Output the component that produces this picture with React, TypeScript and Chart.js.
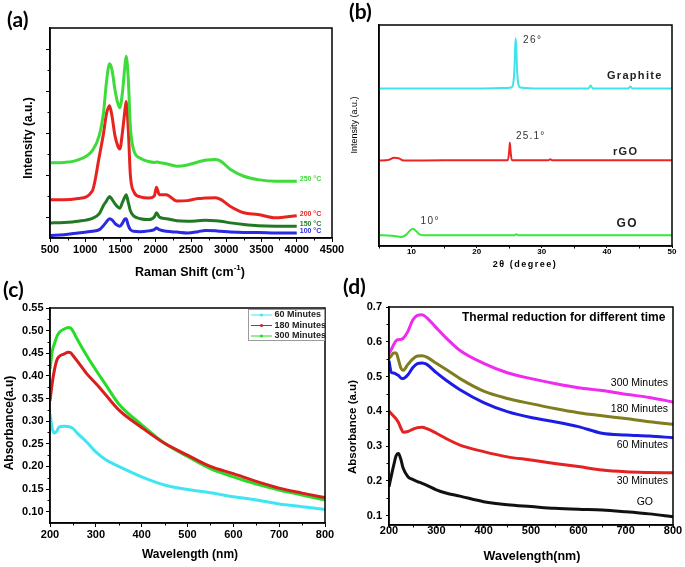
import React, { useEffect, useRef } from "react";
import { Chart, registerables } from "chart.js";
Chart.register(...registerables);

const W = 685;
const H = 567;
const SANS = '"Liberation Sans", Arial, sans-serif';
const PLAB = 'Lato, "Open Sans", sans-serif';

// ---------- (a) Raman ----------
const RAMAN_X = [500, 700, 900, 1100, 1200, 1260, 1300, 1345, 1380, 1420, 1460, 1490, 1530, 1560, 1580, 1610, 1640, 1690, 1780, 1900, 1980, 2010, 2050, 2150, 2300, 2450, 2600, 2700, 2850, 2920, 3060, 3250, 3450, 3700, 4000];
const RAMAN_250 = [1.29, 1.3, 1.36, 1.58, 1.95, 2.5, 3.2, 3.65, 3.5, 3.05, 2.72, 2.6, 3.0, 3.55, 3.83, 3.3, 2.15, 1.58, 1.4, 1.32, 1.3, 1.31, 1.3, 1.27, 1.21, 1.24, 1.31, 1.35, 1.37, 1.33, 1.13, 0.97, 0.89, 0.85, 0.85];
const RAMAN_200 = [0.41, 0.41, 0.44, 0.62, 1.45, 2.0, 2.45, 2.65, 2.4, 1.95, 1.7, 1.62, 2.05, 2.5, 2.75, 2.1, 1.0, 0.6, 0.48, 0.45, 0.5, 0.71, 0.53, 0.53, 0.38, 0.39, 0.44, 0.45, 0.46, 0.42, 0.25, 0.1, 0.06, -0.02, 0.03];
const RAMAN_150 = [-0.14, -0.13, -0.1, -0.03, 0.08, 0.28, 0.38, 0.49, 0.42, 0.32, 0.24, 0.21, 0.36, 0.47, 0.53, 0.35, 0.15, 0.02, -0.04, -0.06, 0.0, 0.1, 0.0, -0.04, -0.09, -0.1, -0.09, -0.08, -0.09, -0.1, -0.14, -0.18, -0.21, -0.22, -0.22];
const RAMAN_100 = [-0.44, -0.42, -0.38, -0.34, -0.3, -0.2, -0.12, -0.04, -0.07, -0.15, -0.2, -0.22, -0.14, -0.05, -0.04, -0.2, -0.3, -0.34, -0.35, -0.33, -0.3, -0.26, -0.3, -0.34, -0.36, -0.38, -0.35, -0.32, -0.33, -0.34, -0.36, -0.37, -0.37, -0.38, -0.38];
const RAMAN_XTICKS = [500, 1000, 1500, 2000, 2500, 3000, 3500, 4000, 4500];
const RAMAN_XMINOR = [750, 1250, 1750, 2250, 2750, 3250, 3750, 4250];
const RAMAN_YTICKS = [0, 1, 2, 3, 4];
const RAMAN_YMINOR = [0.5, 1.5, 2.5, 3.5];
const RAMAN_LABELS = ["250 °C", "200 °C", "150 °C", "100 °C"];

// ---------- (b) XRD ----------
const GRAPHITE_X = [5, 10, 15, 20, 24, 25.3, 25.6, 25.8, 25.9, 26.0, 26.1, 26.2, 26.4, 26.7, 30, 37.2, 37.5, 37.8, 43.3, 43.6, 43.9, 50];
const GRAPHITE_Y = [47.2, 47.2, 47.2, 47.2, 47.3, 47.5, 48.5, 53, 59, 62.2, 59, 53, 48.5, 47.5, 47.2, 47.2, 48.1, 47.2, 47.2, 47.8, 47.2, 47.2];
const RGO_X = [5, 6.5, 7.3, 8.0, 8.8, 12, 18, 24.8, 25.0, 25.1, 25.2, 25.4, 31, 31.3, 31.6, 40, 50];
const RGO_Y = [25.6, 25.8, 26.4, 26.3, 25.6, 25.6, 25.7, 25.7, 28.5, 30.9, 28.5, 25.7, 25.7, 26.0, 25.7, 25.7, 25.7];
const GO_X = [5, 7, 8.4, 9.2, 9.7, 10.2, 10.7, 11.3, 12, 20, 25.8, 26.1, 26.4, 35, 50];
const GO_Y = [3.2, 3.1, 2.7, 3.4, 4.5, 5.2, 4.5, 3.4, 3.2, 3.2, 3.2, 3.5, 3.2, 3.2, 3.2];
const XRD_XTICKS = [10, 20, 30, 40, 50];

// ---------- (c) UV-vis ----------
const C_X = [200, 205, 210, 215, 220, 230, 240, 245, 250, 260, 280, 300, 320, 350, 400, 450, 500, 550, 600, 650, 700, 750, 800];
const C_60 = [0.316, 0.283, 0.274, 0.278, 0.287, 0.289, 0.288, 0.287, 0.284, 0.273, 0.254, 0.232, 0.216, 0.2, 0.177, 0.159, 0.149, 0.142, 0.133, 0.126, 0.117, 0.111, 0.105];
const C_180 = [0.345, 0.385, 0.415, 0.435, 0.443, 0.448, 0.452, 0.451, 0.445, 0.432, 0.405, 0.383, 0.36, 0.325, 0.286, 0.251, 0.225, 0.2, 0.184, 0.167, 0.152, 0.141, 0.131];
const C_300 = [0.415, 0.455, 0.472, 0.487, 0.496, 0.503, 0.507, 0.506, 0.499, 0.48, 0.445, 0.413, 0.383, 0.338, 0.292, 0.251, 0.222, 0.195, 0.177, 0.161, 0.148, 0.137, 0.126];
const C_LEGEND = ["60 Minutes", "180 Minutes", "300 Minutes"];
const C_XTICKS = [200, 300, 400, 500, 600, 700, 800];
const C_XMINOR = [250, 350, 450, 550, 650, 750];
const C_YTICKS = [0.1, 0.15, 0.2, 0.25, 0.3, 0.35, 0.4, 0.45, 0.5, 0.55];
const C_YMINOR = [0.125, 0.175, 0.225, 0.275, 0.325, 0.375, 0.425, 0.475, 0.525];

// ---------- (d) UV-vis thermal ----------
const D_X = [200, 205, 210, 215, 220, 225, 230, 240, 250, 260, 270, 280, 300, 320, 350, 400, 450, 500, 550, 600, 650, 700, 750, 800];
const D_300 = [0.566, 0.578, 0.592, 0.603, 0.606, 0.607, 0.61, 0.63, 0.662, 0.676, 0.678, 0.669, 0.64, 0.612, 0.575, 0.538, 0.511, 0.494, 0.48, 0.468, 0.46, 0.449, 0.44, 0.427];
const D_180 = [0.552, 0.56, 0.568, 0.568, 0.548, 0.525, 0.518, 0.535, 0.55, 0.559, 0.56, 0.556, 0.538, 0.521, 0.494, 0.458, 0.437, 0.422, 0.408, 0.396, 0.387, 0.379, 0.37, 0.363];
const D_60 = [0.545, 0.512, 0.51, 0.507, 0.503, 0.496, 0.494, 0.505, 0.525, 0.537, 0.539, 0.535, 0.511, 0.49, 0.462, 0.425, 0.399, 0.382, 0.37, 0.356, 0.337, 0.332, 0.329, 0.324];
const D_30 = [0.401, 0.393, 0.386, 0.378, 0.368, 0.352, 0.34, 0.342, 0.348, 0.353, 0.354, 0.35, 0.337, 0.322, 0.303, 0.284, 0.269, 0.26, 0.25, 0.241, 0.231, 0.226, 0.224, 0.223];
const D_GO = [0.183, 0.215, 0.245, 0.272, 0.279, 0.262, 0.236, 0.212, 0.204, 0.198, 0.193, 0.187, 0.174, 0.165, 0.156, 0.14, 0.131, 0.126, 0.121, 0.118, 0.116, 0.111, 0.105, 0.097];
const D_LABELS = ["300 Minutes", "180 Minutes", "60 Minutes", "30 Minutes", "GO"];
const D_XTICKS = [200, 300, 400, 500, 600, 700, 800];
const D_XMINOR = [250, 350, 450, 550, 650, 750];
const D_YTICKS = [0.1, 0.2, 0.3, 0.4, 0.5, 0.6, 0.7];
const D_YMINOR = [0.15, 0.25, 0.35, 0.45, 0.55, 0.65];

// ---------- helpers ----------
type Part = { t: string; f: string; dy?: number };
type Txt = {
  parts: Part[];
  x: number;
  y: number;
  color?: string;
  align?: "left" | "center" | "right";
  rot?: boolean;
  ls?: number;
};

const T = (t: string, f: string, x: number, y: number, o: Partial<Txt> = {}): Txt => ({
  parts: [{ t, f }],
  x,
  y,
  ...o,
});

function drawTxt(ctx: CanvasRenderingContext2D, tx: Txt) {
  ctx.save();
  (ctx as any).letterSpacing = (tx.ls || 0) + "px";
  let total = 0;
  const widths = tx.parts.map((p) => {
    ctx.font = p.f;
    const w = ctx.measureText(p.t).width;
    total += w;
    return w;
  });
  ctx.translate(tx.x, tx.y);
  if (tx.rot) ctx.rotate(-Math.PI / 2);
  const align = tx.align || "left";
  let x = align === "left" ? 0 : align === "center" ? -total / 2 : -total;
  ctx.fillStyle = tx.color || "#000";
  ctx.textBaseline = "middle";
  ctx.textAlign = "left";
  tx.parts.forEach((p, i) => {
    ctx.font = p.f;
    ctx.fillText(p.t, x, p.dy || 0);
    x += widths[i];
  });
  ctx.restore();
}

type Axis = {
  min: number;
  max: number;
  ticks: number[];
  minor: number[];
  show: boolean;
  size: number;
  tickLen: number;
  pad: number;
  fmt?: (v: number) => string;
};

type Panel = {
  area: { l: number; t: number; r: number; b: number };
  x: Axis;
  y: Axis;
  datasets: any[];
  texts: (chart: any) => Txt[];
  extra?: (chart: any, ctx: CanvasRenderingContext2D) => void;
};

const line = (xs: number[], ys: number[], color: string, width = 3) => ({
  data: xs.map((x, i) => ({ x, y: ys[i] })),
  borderColor: color,
  backgroundColor: color,
  borderWidth: width,
  pointRadius: 0,
  fill: false,
  cubicInterpolationMode: "monotone",
});

function scaleOpts(a: Axis, isX: boolean, boxSize: number) {
  return {
    type: "linear",
    position: isX ? "bottom" : "left",
    min: a.min,
    max: a.max,
    bounds: "data",
    afterBuildTicks: (s: any) => {
      s.ticks = a.ticks.map((v) => ({ value: v }));
    },
    afterFit: (s: any) => {
      if (isX) s.height = boxSize;
      else s.width = boxSize;
    },
    grid: {
      drawOnChartArea: false,
      drawTicks: true,
      tickLength: a.tickLen,
      color: "#000",
      lineWidth: 1,
    },
    border: { display: true, color: "#000", width: 1.5 },
    ticks: {
      display: a.show,
      autoSkip: false,
      maxRotation: 0,
      minRotation: 0,
      padding: a.pad,
      color: "#000",
      font: { family: SANS, size: a.size, weight: "bold", lineHeight: 1 },
      callback: (v: any) => (a.fmt ? a.fmt(Number(v)) : String(v)),
    },
  };
}

function buildChart(canvas: HTMLCanvasElement, p: Panel) {
  const yw = 40;
  const xh = 30;
  const overlay = {
    id: "overlay",
    afterDraw(chart: any) {
      const ctx: CanvasRenderingContext2D = chart.ctx;
      const ca = chart.chartArea;
      const xs = chart.scales.x;
      const ys = chart.scales.y;
      ctx.save();
      ctx.strokeStyle = "#000";
      ctx.lineWidth = 1.5;
      ctx.strokeRect(ca.left, ca.top, ca.right - ca.left, ca.bottom - ca.top);
      ctx.lineWidth = 1;
      ctx.beginPath();
      p.x.minor.forEach((v) => {
        const px = Math.round(xs.getPixelForValue(v)) + 0.5;
        ctx.moveTo(px, ca.bottom);
        ctx.lineTo(px, ca.bottom + 2.5);
      });
      p.y.minor.forEach((v) => {
        const py = Math.round(ys.getPixelForValue(v)) + 0.5;
        ctx.moveTo(ca.left, py);
        ctx.lineTo(ca.left - 2.5, py);
      });
      ctx.stroke();
      ctx.restore();
      if (p.extra) p.extra(chart, ctx);
      p.texts(chart).forEach((t) => drawTxt(ctx, t));
    },
  };
  return new Chart(canvas, {
    type: "line",
    data: { datasets: p.datasets },
    options: {
      animation: false,
      responsive: false,
      maintainAspectRatio: false,
      events: [],
      layout: {
        padding: {
          left: p.area.l - yw,
          top: p.area.t,
          right: W - p.area.r,
          bottom: H - p.area.b - xh,
        },
      },
      plugins: { legend: { display: false }, tooltip: { enabled: false } },
      scales: {
        x: scaleOpts(p.x, true, xh),
        y: scaleOpts(p.y, false, yw),
      },
    } as any,
    plugins: [overlay],
  } as any);
}

const B = (s: number) => `bold ${s}px ${SANS}`;
const R = (s: number) => `${s}px ${SANS}`;
const PL = `bold 21px ${PLAB}`;

const COL_A = ["#3ddc3a", "#e8231f", "#217a23", "#2a2ae0"];
const COL_B = ["#3fe3ee", "#ec2424", "#35e83a"];
const COL_C = ["#3fe6f2", "#d81e1e", "#27dc27"];
const COL_D = ["#ee2bee", "#7f7d1e", "#1c1ce4", "#e42222", "#111111"];

const PANELS: Panel[] = [
  {
    area: { l: 50, t: 28, r: 332, b: 238 },
    x: { min: 500, max: 4500, ticks: RAMAN_XTICKS, minor: RAMAN_XMINOR, show: true, size: 11, tickLen: 4, pad: 2.5 },
    y: { min: -0.5, max: 4.5, ticks: RAMAN_YTICKS, minor: RAMAN_YMINOR, show: false, size: 11, tickLen: 4, pad: 2 },
    datasets: [
      line(RAMAN_X, RAMAN_250, COL_A[0]),
      line(RAMAN_X, RAMAN_200, COL_A[1]),
      line(RAMAN_X, RAMAN_150, COL_A[2]),
      line(RAMAN_X, RAMAN_100, COL_A[3]),
    ],
    texts: (chart) => {
      const xs = chart.scales.x;
      const ys = chart.scales.y;
      const series = [RAMAN_250, RAMAN_200, RAMAN_150, RAMAN_100];
      const lx = xs.getPixelForValue(RAMAN_X[RAMAN_X.length - 1]) + 3;
      return [
        T("(a)", PL, 7, 20),
        T("Intensity (a.u.)", B(12), 29, 138, { rot: true, align: "center" }),
        {
          parts: [
            { t: "Raman Shift (cm", f: B(12.5) },
            { t: "-1", f: B(8), dy: -5 },
            { t: ")", f: B(12.5) },
          ],
          x: 190,
          y: 273,
          align: "center",
        },
        ...RAMAN_LABELS.map((s, i) =>
          T(s, B(7), lx, ys.getPixelForValue(series[i][series[i].length - 1]) - 2, { color: COL_A[i] })
        ),
      ];
    },
  },
  {
    area: { l: 379, t: 25, r: 672, b: 246 },
    x: { min: 5, max: 50, ticks: XRD_XTICKS, minor: [5, 15, 25, 35, 45], show: true, size: 8, tickLen: 2, pad: 0 },
    y: { min: 0, max: 66.2, ticks: [], minor: [], show: false, size: 8, tickLen: 3, pad: 2 },
    datasets: [
      line(GRAPHITE_X, GRAPHITE_Y, COL_B[0], 2),
      line(RGO_X, RGO_Y, COL_B[1], 2),
      line(GO_X, GO_Y, COL_B[2], 2),
    ],
    texts: () => [
      T("(b)", PL, 349, 12),
      T("Intensity (a.u.)", R(9), 355, 125, { rot: true, align: "center" }),
      T("2θ (degree)", B(9), 525, 265, { align: "center", ls: 1.5 }),
      T("26°", R(10), 523, 40, { color: "#333", ls: 1.5 }),
      T("Graphite", B(11), 607, 75.5, { color: "#222", ls: 1.3 }),
      T("25.1°", R(10), 516, 136.5, { color: "#333", ls: 1.2 }),
      T("rGO", B(11), 613, 151.5, { color: "#222", ls: 1.3 }),
      T("10°", R(10), 420.5, 221.7, { color: "#333", ls: 1.5 }),
      T("GO", B(12), 616.5, 223.5, { color: "#222", ls: 1.5 }),
    ],
  },
  {
    area: { l: 50, t: 308, r: 325, b: 523 },
    x: { min: 200, max: 800, ticks: C_XTICKS, minor: C_XMINOR, show: true, size: 11, tickLen: 4, pad: 2.2 },
    y: {
      min: 0.075,
      max: 0.55,
      ticks: C_YTICKS,
      minor: C_YMINOR,
      show: true,
      size: 11,
      tickLen: 4,
      pad: 2.5,
      fmt: (v) => v.toFixed(2),
    },
    datasets: [line(C_X, C_60, COL_C[0]), line(C_X, C_180, COL_C[1]), line(C_X, C_300, COL_C[2])],
    extra: (_chart, ctx) => {
      ctx.save();
      ctx.strokeStyle = "#9a9a9a";
      ctx.lineWidth = 1;
      ctx.strokeRect(248.5, 309.5, 76, 31);
      C_LEGEND.forEach((_, i) => {
        const y = 315 + i * 10.5;
        ctx.strokeStyle = COL_C[i];
        ctx.lineWidth = 1;
        ctx.beginPath();
        ctx.moveTo(251, y);
        ctx.lineTo(272, y);
        ctx.stroke();
        ctx.fillStyle = COL_C[i];
        ctx.beginPath();
        ctx.arc(261.5, y, 1.6, 0, Math.PI * 2);
        ctx.fill();
      });
      ctx.restore();
    },
    texts: () => [
      T("(c)", PL, 3, 290),
      T("Absorbance(a.u)", B(12), 10, 423, { rot: true, align: "center" }),
      T("Wavelength (nm)", B(12), 190, 555, { align: "center" }),
      ...C_LEGEND.map((s, i) => T(s, B(9), 274.5, 315 + i * 10.5, { color: "#222" })),
    ],
  },
  {
    area: { l: 389, t: 307, r: 673, b: 525 },
    x: { min: 200, max: 800, ticks: D_XTICKS, minor: D_XMINOR, show: true, size: 11, tickLen: 3, pad: -2.5 },
    y: {
      min: 0.073,
      max: 0.7,
      ticks: D_YTICKS,
      minor: D_YMINOR,
      show: true,
      size: 11,
      tickLen: 3,
      pad: 4,
      fmt: (v) => v.toFixed(1),
    },
    datasets: [
      line(D_X, D_300, COL_D[0]),
      line(D_X, D_180, COL_D[1]),
      line(D_X, D_60, COL_D[2]),
      line(D_X, D_30, COL_D[3]),
      line(D_X, D_GO, COL_D[4]),
    ],
    texts: () => [
      T("(d)", PL, 343, 287),
      T("Absorbance (a.u)", B(11.5), 353, 427, { rot: true, align: "center" }),
      T("Wavelength(nm)", B(12.5), 532, 557, { align: "center" }),
      T("Thermal reduction for different time", B(12), 462, 318),
      T(D_LABELS[0], R(10.5), 668, 383, { align: "right" }),
      T(D_LABELS[1], R(10.5), 668, 409, { align: "right" }),
      T(D_LABELS[2], R(10.5), 668, 445, { align: "right" }),
      T(D_LABELS[3], R(10.5), 668, 481, { align: "right" }),
      T(D_LABELS[4], R(10.5), 653, 502, { align: "right" }),
    ],
  },
];

function ChartCanvas({ panel }: { panel: Panel }) {
  const ref = useRef<HTMLCanvasElement>(null);
  useEffect(() => {
    if (!ref.current) return;
    const chart = buildChart(ref.current, panel);
    return () => chart.destroy();
  }, [panel]);
  return (
    <canvas
      ref={ref}
      width={W}
      height={H}
      style={{ position: "absolute", left: 0, top: 0, width: W, height: H }}
    />
  );
}

export default function App() {
  return (
    <div
      style={{
        position: "absolute",
        left: 0,
        top: 0,
        width: W,
        height: H,
        background: "#fff",
        overflow: "hidden",
      }}
    >
      {PANELS.map((p, i) => (
        <ChartCanvas key={i} panel={p} />
      ))}
    </div>
  );
}
